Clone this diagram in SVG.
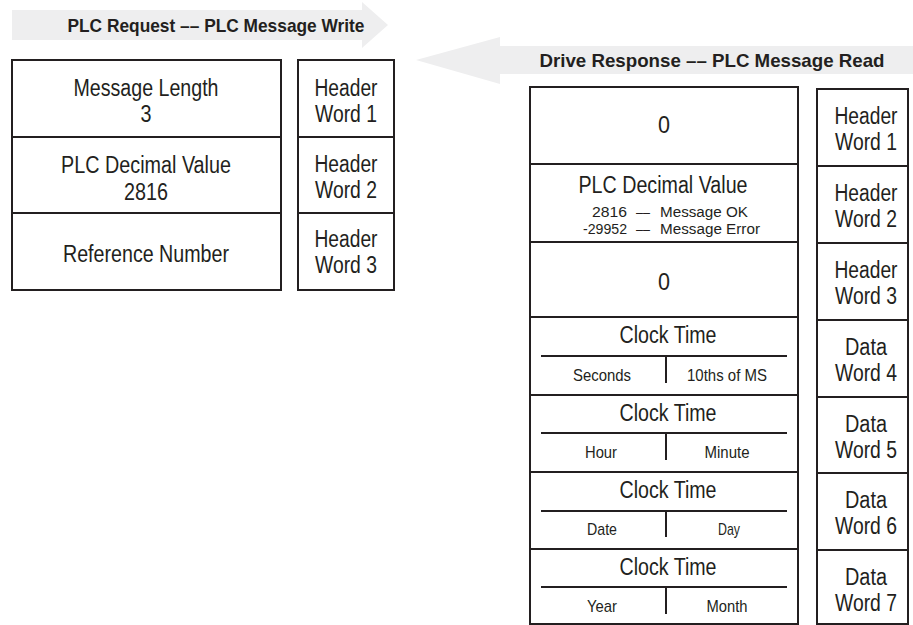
<svg xmlns="http://www.w3.org/2000/svg" width="913" height="625" viewBox="0 0 913 625">
<style>
.t{font-family:"Liberation Sans",Arial,sans-serif;fill:#231f20;text-anchor:middle}
.big{font-size:23px}
.sm{font-size:17px}
.xs{font-size:15.5px}
.hd{font-size:19px;font-weight:bold}
.box{fill:#fff;stroke:#231f20;stroke-width:2}
.ln{stroke:#231f20;stroke-width:2;fill:none}
.band{fill:#eeeeef}
</style>
<rect width="913" height="625" fill="#fff"/>
<g id="arrow-request">
<polygon class="band" points="12,10 362,10 362,2 388,25 362,48 362,40 12,40"/>
<text class="t hd" x="216" y="32" textLength="297" lengthAdjust="spacingAndGlyphs">PLC Request –– PLC Message Write</text>
</g>
<g id="arrow-response">
<polygon class="band" points="913,46 500,46 500,37 416,60 500,84 500,74 913,74"/>
<text class="t hd" x="712" y="67" textLength="345" lengthAdjust="spacingAndGlyphs">Drive Response –– PLC Message Read</text>
</g>
<g id="request-table">
<rect class="box" x="12" y="60" width="269" height="230"/>
<line class="ln" x1="12" y1="137" x2="281" y2="137"/>
<line class="ln" x1="12" y1="213" x2="281" y2="213"/>
<text class="t big" x="146" y="96" textLength="145" lengthAdjust="spacingAndGlyphs">Message Length</text>
<text class="t big" x="146" y="122" textLength="11" lengthAdjust="spacingAndGlyphs">3</text>
<text class="t big" x="146" y="173" textLength="170" lengthAdjust="spacingAndGlyphs">PLC Decimal Value</text>
<text class="t big" x="146" y="200" textLength="44" lengthAdjust="spacingAndGlyphs">2816</text>
<text class="t big" x="146" y="262" textLength="166" lengthAdjust="spacingAndGlyphs">Reference Number</text>
</g>
<g id="request-words">
<rect class="box" x="298" y="60" width="96" height="230"/>
<line class="ln" x1="298" y1="137" x2="394" y2="137"/>
<line class="ln" x1="298" y1="213" x2="394" y2="213"/>
<text class="t big" x="346" y="96" textLength="63" lengthAdjust="spacingAndGlyphs">Header</text>
<text class="t big" x="346" y="122" textLength="62" lengthAdjust="spacingAndGlyphs">Word 1</text>
<text class="t big" x="346" y="172" textLength="63" lengthAdjust="spacingAndGlyphs">Header</text>
<text class="t big" x="346" y="198" textLength="62" lengthAdjust="spacingAndGlyphs">Word 2</text>
<text class="t big" x="346" y="247" textLength="63" lengthAdjust="spacingAndGlyphs">Header</text>
<text class="t big" x="346" y="273" textLength="62" lengthAdjust="spacingAndGlyphs">Word 3</text>
</g>
<g id="response-table">
<rect class="box" x="530" y="87" width="268" height="537"/>
<line class="ln" x1="530" y1="164" x2="798" y2="164"/>
<line class="ln" x1="530" y1="242" x2="798" y2="242"/>
<line class="ln" x1="530" y1="317" x2="798" y2="317"/>
<line class="ln" x1="530" y1="395" x2="798" y2="395"/>
<line class="ln" x1="530" y1="472" x2="798" y2="472"/>
<line class="ln" x1="530" y1="549" x2="798" y2="549"/>
<text class="t big" x="664" y="133" textLength="12" lengthAdjust="spacingAndGlyphs">0</text>
<text class="t big" x="663" y="193" textLength="169" lengthAdjust="spacingAndGlyphs">PLC Decimal Value</text>
<text class="t xs" x="627" y="217" style="text-anchor:end" textLength="35" lengthAdjust="spacingAndGlyphs">2816</text>
<text class="t xs" x="643" y="217" textLength="14" lengthAdjust="spacingAndGlyphs">––</text>
<text class="t xs" x="660" y="217" style="text-anchor:start" textLength="88" lengthAdjust="spacingAndGlyphs">Message OK</text>
<text class="t xs" x="627" y="234" style="text-anchor:end" textLength="44" lengthAdjust="spacingAndGlyphs">-29952</text>
<text class="t xs" x="643" y="234" textLength="14" lengthAdjust="spacingAndGlyphs">––</text>
<text class="t xs" x="660" y="234" style="text-anchor:start" textLength="100" lengthAdjust="spacingAndGlyphs">Message Error</text>
<text class="t big" x="664" y="290" textLength="12" lengthAdjust="spacingAndGlyphs">0</text>
<g id="clock1">
<text class="t big" x="668" y="343" textLength="97" lengthAdjust="spacingAndGlyphs">Clock Time</text>
<line class="ln" x1="541" y1="356" x2="787" y2="356"/>
<line class="ln" x1="666" y1="356" x2="666" y2="383"/>
<text class="t sm" x="602" y="381" textLength="58" lengthAdjust="spacingAndGlyphs">Seconds</text>
<text class="t sm" x="727" y="381" textLength="80" lengthAdjust="spacingAndGlyphs">10ths of MS</text>
</g>
<g id="clock2">
<text class="t big" x="668" y="421" textLength="97" lengthAdjust="spacingAndGlyphs">Clock Time</text>
<line class="ln" x1="541" y1="433" x2="787" y2="433"/>
<line class="ln" x1="666" y1="433" x2="666" y2="460"/>
<text class="t sm" x="601" y="458" textLength="32" lengthAdjust="spacingAndGlyphs">Hour</text>
<text class="t sm" x="727" y="458" textLength="45" lengthAdjust="spacingAndGlyphs">Minute</text>
</g>
<g id="clock3">
<text class="t big" x="668" y="498" textLength="97" lengthAdjust="spacingAndGlyphs">Clock Time</text>
<line class="ln" x1="541" y1="511" x2="787" y2="511"/>
<line class="ln" x1="666" y1="511" x2="666" y2="537"/>
<text class="t sm" x="602" y="535" textLength="30" lengthAdjust="spacingAndGlyphs">Date</text>
<text class="t sm" x="729" y="535" textLength="22" lengthAdjust="spacingAndGlyphs">Day</text>
</g>
<g id="clock4">
<text class="t big" x="668" y="575" textLength="97" lengthAdjust="spacingAndGlyphs">Clock Time</text>
<line class="ln" x1="541" y1="587" x2="787" y2="587"/>
<line class="ln" x1="666" y1="587" x2="666" y2="614"/>
<text class="t sm" x="602" y="612" textLength="30" lengthAdjust="spacingAndGlyphs">Year</text>
<text class="t sm" x="727" y="612" textLength="41" lengthAdjust="spacingAndGlyphs">Month</text>
</g>
</g>
<g id="response-words">
<rect class="box" x="817" y="89" width="91" height="535"/>
<line class="ln" x1="817" y1="166" x2="908" y2="166"/>
<line class="ln" x1="817" y1="243" x2="908" y2="243"/>
<line class="ln" x1="817" y1="320" x2="908" y2="320"/>
<line class="ln" x1="817" y1="397" x2="908" y2="397"/>
<line class="ln" x1="817" y1="473" x2="908" y2="473"/>
<line class="ln" x1="817" y1="550" x2="908" y2="550"/>
<text class="t big" x="866" y="124" textLength="63" lengthAdjust="spacingAndGlyphs">Header</text>
<text class="t big" x="866" y="150" textLength="62" lengthAdjust="spacingAndGlyphs">Word 1</text>
<text class="t big" x="866" y="201" textLength="63" lengthAdjust="spacingAndGlyphs">Header</text>
<text class="t big" x="866" y="227" textLength="62" lengthAdjust="spacingAndGlyphs">Word 2</text>
<text class="t big" x="866" y="278" textLength="63" lengthAdjust="spacingAndGlyphs">Header</text>
<text class="t big" x="866" y="304" textLength="62" lengthAdjust="spacingAndGlyphs">Word 3</text>
<text class="t big" x="866" y="355" textLength="42" lengthAdjust="spacingAndGlyphs">Data</text>
<text class="t big" x="866" y="381" textLength="62" lengthAdjust="spacingAndGlyphs">Word 4</text>
<text class="t big" x="866" y="432" textLength="42" lengthAdjust="spacingAndGlyphs">Data</text>
<text class="t big" x="866" y="458" textLength="62" lengthAdjust="spacingAndGlyphs">Word 5</text>
<text class="t big" x="866" y="508" textLength="42" lengthAdjust="spacingAndGlyphs">Data</text>
<text class="t big" x="866" y="534" textLength="62" lengthAdjust="spacingAndGlyphs">Word 6</text>
<text class="t big" x="866" y="585" textLength="42" lengthAdjust="spacingAndGlyphs">Data</text>
<text class="t big" x="866" y="611" textLength="62" lengthAdjust="spacingAndGlyphs">Word 7</text>
</g>
</svg>
